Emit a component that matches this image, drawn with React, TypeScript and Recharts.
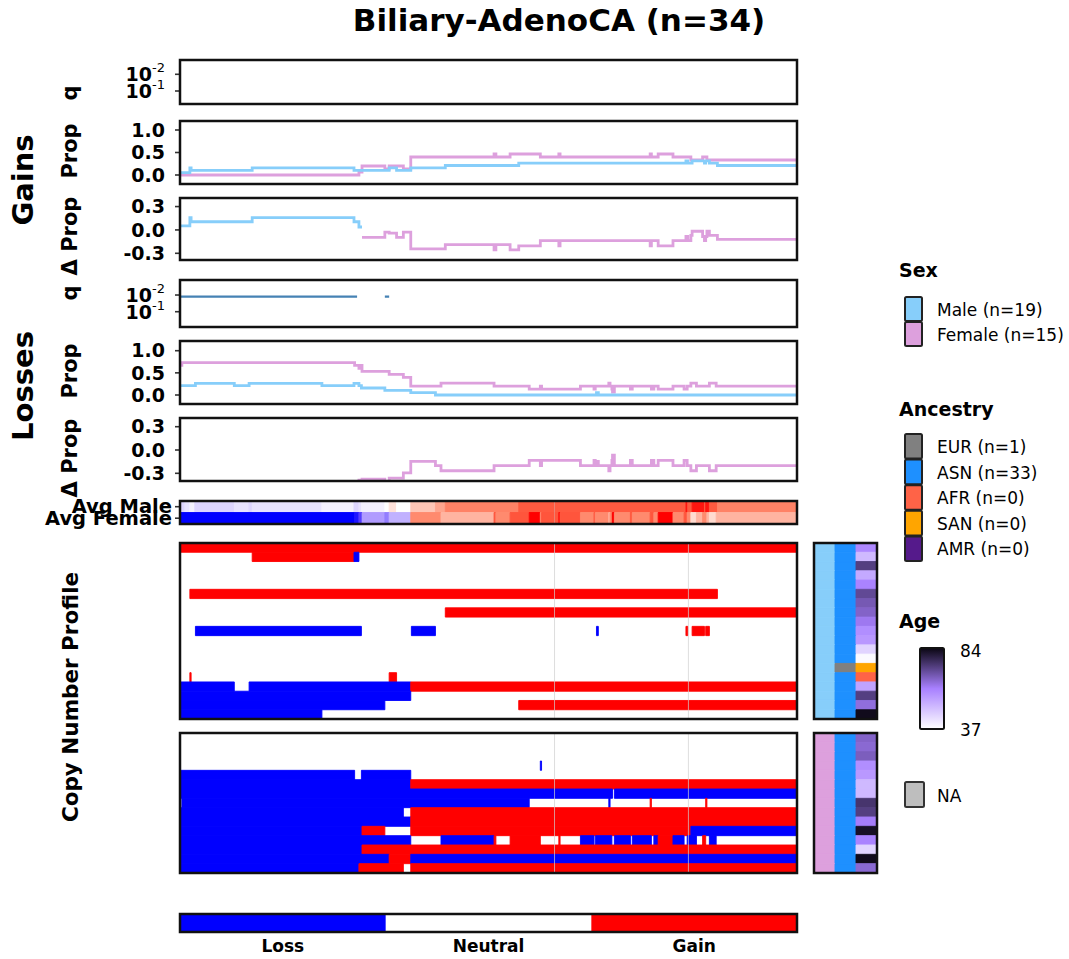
import React from 'react';
import {
  Bar,
  BarChart,
  Cell,
  ComposedChart,
  Line,
  LineChart,
  ReferenceArea,
  ReferenceLine,
  XAxis,
  YAxis,
} from 'recharts';

const FONT = '"DejaVu Sans", Verdana, sans-serif';
const maleColor = '#87CEFA';
const femaleColor = '#DDA0DD';
const qColor = '#4682B4';
const lossColor = '#0000FF';
const gainColor = '#FF0000';

type Step = [number, number | null];
type Seg = [number, number, number];

// positions are percent along the plotted region, each step holds until the next one
const qGainMale: Step[] = [[0, null]];
const qLossMale: Step[] = [[0, 0.0126], [28.7, null], [33.2, 0.0126], [33.9, null]];

const gainPropMale: Step[] = [
  [0, 0.053], [1.6, 0.158], [1.8, 0.105], [11.7, 0.158], [28.2, 0.105], [33.9, 0.158], [35.1, 0.105],
  [37.4, 0.158], [43.0, 0.211], [54.9, 0.263], [82.0, 0.316], [82.3, 0.263], [83.0, 0.316], [85.0, 0.263],
  [85.2, 0.316], [85.8, 0.263], [87.1, 0.211],
];
const gainPropFemale: Step[] = [
  [0, 0], [29.0, 0.067], [29.5, 0.2], [33.2, 0.133], [33.9, 0.2], [36.2, 0.133], [37.4, 0.4], [50.9, 0.467],
  [51.2, 0.4], [53.5, 0.467], [58.4, 0.4], [61.4, 0.467], [61.6, 0.4], [76.2, 0.467], [76.4, 0.4], [77.5, 0.467],
  [79.9, 0.4], [82.8, 0.333], [84.7, 0.4], [85.4, 0.333],
];
const gainDelta: Step[] = [
  [0, 0.053], [1.6, 0.158], [1.8, 0.105], [11.7, 0.158], [28.2, 0.105], [29.0, 0.038], [29.5, -0.095],
  [33.2, -0.028], [33.9, -0.042], [35.1, -0.095], [36.2, -0.028], [37.4, -0.242], [43.0, -0.189], [50.9, -0.256],
  [51.2, -0.189], [53.5, -0.256], [54.9, -0.204], [58.4, -0.137], [61.4, -0.204], [61.6, -0.137], [76.2, -0.204],
  [76.4, -0.137], [77.5, -0.204], [79.9, -0.137], [82.0, -0.084], [82.3, -0.137], [82.8, -0.07], [83.0, -0.017],
  [84.7, -0.084], [85.0, -0.137], [85.2, -0.084], [85.4, -0.017], [85.8, -0.07], [87.1, -0.122],
];

const lossPropMale: Step[] = [
  [0, 0.211], [2.5, 0.263], [8.8, 0.211], [11.2, 0.263], [23.0, 0.211], [28.2, 0.263], [29.0, 0.211],
  [29.4, 0.158], [33.2, 0.105], [37.4, 0.053], [41.4, 0], [67.5, 0.053], [67.8, 0],
];
const lossPropFemale: Step[] = [
  [0, 0.667], [0.3, 0.733], [28.3, 0.667], [29.0, 0.6], [29.4, 0.667], [29.5, 0.533], [33.9, 0.467], [36.2, 0.4],
  [37.4, 0.2], [42.3, 0.267], [50.9, 0.2], [56.6, 0.133], [58.4, 0.2], [58.6, 0.133], [64.9, 0.2], [67.1, 0.133],
  [67.3, 0.2], [69.5, 0.267], [69.7, 0.2], [70.0, 0.133], [70.1, 0.067], [70.4, 0.2], [73.0, 0.133], [73.3, 0.2],
  [76.4, 0.133], [76.8, 0.2], [77.5, 0.133], [79.9, 0.2], [81.7, 0.133], [82.2, 0.2], [82.8, 0.267], [83.7, 0.2],
  [85.8, 0.267], [86.9, 0.2],
];
const lossDelta: Step[] = [
  [0, -0.456], [0.3, -0.522], [2.5, -0.47], [8.8, -0.522], [11.2, -0.47], [23.0, -0.522], [28.2, -0.47],
  [28.3, -0.404], [29.0, -0.389], [29.4, -0.509], [29.5, -0.375], [33.2, -0.428], [33.9, -0.362], [36.2, -0.295],
  [37.4, -0.147], [41.4, -0.2], [42.3, -0.267], [50.9, -0.2], [56.6, -0.133], [58.4, -0.2], [58.6, -0.133],
  [64.9, -0.2], [67.1, -0.133], [67.3, -0.2], [67.5, -0.147], [67.8, -0.2], [69.5, -0.267], [69.7, -0.2],
  [70.0, -0.133], [70.1, -0.067], [70.4, -0.2], [73.0, -0.133], [73.3, -0.2], [76.4, -0.133], [76.8, -0.2],
  [77.5, -0.133], [79.9, -0.2], [81.7, -0.133], [82.2, -0.2], [82.8, -0.267], [83.7, -0.2], [85.8, -0.267],
  [86.9, -0.2],
];

const avgRows = ['Avg Male', 'Avg Female'];
const avgMale: Step[] = [
  [0, -0.158], [0.8, -0.105], [1.6, -0.053], [2.4, -0.158], [8.8, -0.105], [11.2, -0.158], [11.7, -0.105],
  [23.0, -0.053], [28.2, -0.158], [29.0, -0.105], [29.4, -0.053], [33.2, 0], [33.9, 0.053], [35.1, 0],
  [37.4, 0.105], [41.4, 0.158], [43.0, 0.211], [54.9, 0.263], [82.0, 0.316], [82.3, 0.263], [83.0, 0.316],
  [85.0, 0.263], [85.2, 0.316], [85.8, 0.263], [87.1, 0.211],
];
const avgFemale: Step[] = [
  [0, -0.733], [28.3, -0.667], [29.0, -0.533], [29.4, -0.6], [29.5, -0.333], [33.2, -0.4], [33.9, -0.267],
  [37.4, 0.2], [42.3, 0.133], [50.9, 0.267], [51.2, 0.2], [53.5, 0.267], [56.6, 0.333], [58.4, 0.2],
  [58.6, 0.267], [61.4, 0.333], [61.6, 0.267], [64.9, 0.2], [67.1, 0.267], [67.3, 0.2], [69.5, 0.133],
  [69.7, 0.2], [70.0, 0.267], [70.1, 0.333], [70.4, 0.2], [73.0, 0.267], [73.3, 0.2], [76.2, 0.267],
  [76.8, 0.2], [77.5, 0.333], [79.9, 0.2], [81.7, 0.267], [82.2, 0.2], [82.8, 0.067], [83.7, 0.133],
  [84.7, 0.2], [85.4, 0.133], [85.8, 0.067], [86.9, 0.133],
];

// copy number segments per sample: [start, end, +1 gain / -1 loss]
const maleCN: Seg[][] = [
  [[0, 100, 1]],
  [[11.7, 28.2, 1], [28.2, 29.0, -1]],
  [],
  [],
  [],
  [[1.6, 87.1, 1]],
  [],
  [[43.0, 100, 1]],
  [],
  [[2.5, 29.4, -1], [37.5, 41.4, -1], [67.5, 67.8, -1], [82.0, 82.3, 1], [83.0, 85.0, 1], [85.2, 85.8, 1]],
  [],
  [],
  [],
  [],
  [[1.6, 1.8, 1], [33.9, 35.1, 1]],
  [[0, 8.8, -1], [11.2, 37.4, -1], [37.4, 100, 1]],
  [[0, 37.4, -1]],
  [[0, 33.2, -1], [54.9, 100, 1]],
  [[0, 23.0, -1]],
];
const femaleCN: Seg[][] = [
  [],
  [],
  [],
  [[58.4, 58.6, -1]],
  [[0, 28.3, -1], [29.4, 37.4, -1]],
  [[0, 37.4, -1], [37.4, 100, 1]],
  [[0, 70.1, -1], [70.4, 100, -1]],
  [[0.3, 56.6, -1], [69.5, 69.7, -1], [76.2, 76.4, 1], [85.2, 85.4, 1]],
  [[0, 36.2, -1], [37.4, 100, 1]],
  [[0, 37.4, -1], [37.4, 100, 1]],
  [[0, 29.5, -1], [29.5, 33.2, 1], [37.4, 82.8, 1], [82.8, 100, -1]],
  [
    [0, 37.4, -1], [42.3, 50.9, -1], [50.9, 51.2, 1], [53.5, 58.4, 1], [61.4, 61.6, 1], [64.9, 67.1, -1],
    [67.3, 70.0, -1], [70.4, 73.0, -1], [73.3, 76.4, -1], [76.8, 77.5, -1], [77.5, 79.9, 1], [79.9, 81.7, -1],
    [82.2, 83.7, -1], [84.7, 85.2, 1], [85.8, 86.9, -1],
  ],
  [[0, 29.5, -1], [29.5, 100, 1]],
  [[0, 33.9, -1], [33.9, 37.4, 1], [37.4, 100, -1]],
  [[0, 29.0, -1], [29.0, 36.2, 1], [37.4, 100, 1]],
];
const gridMarks = [60.7, 82.4];

const maleAncestry = ['ASN', 'ASN', 'ASN', 'ASN', 'ASN', 'ASN', 'ASN', 'ASN', 'ASN', 'ASN', 'ASN', 'ASN', 'ASN', 'EUR', 'ASN', 'ASN', 'ASN', 'ASN', 'ASN'];
const femaleAncestry = Array(15).fill('ASN');
// ages; two cells are drawn in ancestry colours in the source figure
const maleAge: (number | string)[] = [59, 50, 73, 53, 60, 71, 68, 66, 62, 58, 56, 45, 38, 'SAN', 'AFR', 54, 73, 64, 83];
const femaleAge: (number | string)[] = [66, 65, 67, 58, 56, 50, 50, 75, 73, 61, 82, 60, 45, 83, 65];

const sexLegend = [
  { label: 'Male (n=19)', color: maleColor },
  { label: 'Female (n=15)', color: femaleColor },
];
const ancestryLegend = [
  { key: 'EUR', label: 'EUR (n=1)' },
  { key: 'ASN', label: 'ASN (n=33)' },
  { key: 'AFR', label: 'AFR (n=0)' },
  { key: 'SAN', label: 'SAN (n=0)' },
  { key: 'AMR', label: 'AMR (n=0)' },
];
const ancestryColors: Record<string, string> = {
  EUR: '#808080',
  ASN: '#1E90FF',
  AFR: '#FF6347',
  SAN: '#FFA500',
  AMR: '#551A8B',
};
const ageRange = [37, 84];
const cnStates = ['Loss', 'Neutral', 'Gain'];

const avgStops: [number, string][] = [
  [-0.733, '#0000ff'], [-0.533, '#5a40ff'], [-0.333, '#b09bff'], [-0.158, '#ddd5ff'], [0, '#ffffff'],
  [0.105, '#ffc6b6'], [0.2, '#ff8a6e'], [0.263, '#ff5a40'], [0.333, '#ff0000'],
];
const ageStops: [number, string][] = [[37, '#ffffff'], [60.5, '#a880ff'], [84, '#0a0612']];

const rgb = (h: string) => {
  const n = parseInt(h.slice(1), 16);
  return [(n >> 16) & 255, (n >> 8) & 255, n & 255];
};
const scaleColor = (stops: [number, string][], v: number) => {
  if (v <= stops[0][0]) return stops[0][1];
  for (let i = 1; i < stops.length; i++) {
    if (v <= stops[i][0]) {
      const t = (v - stops[i - 1][0]) / (stops[i][0] - stops[i - 1][0]);
      const a = rgb(stops[i - 1][1]);
      const b = rgb(stops[i][1]);
      return `rgb(${a.map((x, k) => Math.round(x + (b[k] - x) * t)).join(',')})`;
    }
  }
  return stops[stops.length - 1][1];
};

const stepSeries = (steps: Step[], keep: (v: number) => boolean = () => true, map: (v: number) => number = (v) => v) => {
  const out: { p: number; v: number | null }[] = [];
  steps.forEach(([p, v], i) => {
    const end = i + 1 < steps.length ? steps[i + 1][0] : 100;
    if (v !== null && keep(v)) {
      out.push({ p, v: map(v) }, { p: end, v: map(v) });
    } else {
      out.push({ p, v: null });
    }
  });
  return out;
};

type Rect = { x1: number; x2: number; y1: number; y2: number; fill: string };
const cnRects = (rows: Seg[][]): Rect[] =>
  rows.flatMap((segs, r) =>
    segs.map(([a, b, s]) => ({ x1: a, x2: b, y1: r, y2: r + 1, fill: s > 0 ? gainColor : lossColor })),
  );
const avgRects = (steps: Step[], row: number): Rect[] =>
  steps.map(([p, v], i) => ({
    x1: p,
    x2: i + 1 < steps.length ? steps[i + 1][0] : 100,
    y1: row,
    y2: row + 1,
    fill: scaleColor(avgStops, v ?? 0),
  }));
const annotRects = (sex: string, ancestry: string[], ages: (number | string)[]): Rect[] =>
  ancestry.flatMap((anc, r) => {
    const age = ages[r];
    return [
      { x1: 0, x2: 1, y1: r, y2: r + 1, fill: sex },
      { x1: 1, x2: 2, y1: r, y2: r + 1, fill: ancestryColors[anc] },
      {
        x1: 2,
        x2: 3,
        y1: r,
        y2: r + 1,
        fill: typeof age === 'number' ? scaleColor(ageStops, age) : ancestryColors[age],
      },
    ];
  });

const noMargin = { top: 0, right: 0, bottom: 0, left: 0 };
const pad = 12;
const tickStyle = { fontSize: 19, fontWeight: 'bold', fill: '#000', fontFamily: FONT };

const QTick = (props: any) => {
  const { x, y, payload } = props;
  return (
    <text x={x} y={y} textAnchor="end" fontFamily={FONT} fill="#000">
      <tspan fontWeight="bold" fontSize={19} dy={7}>10</tspan>
      <tspan fontSize={13} dy={-9}>{`-${payload.value}`}</tspan>
    </text>
  );
};

type PanelProps = {
  top: number;
  height: number;
  domain: [number, number];
  ticks: number[];
  q?: boolean;
  series: { data: { p: number; v: number | null }[]; color: string; width?: number }[];
};

function LinePanel({ top, height, domain, ticks, q, series }: PanelProps) {
  return (
    <div style={{ position: 'absolute', left: 100, top: top - pad }}>
      <LineChart width={697} height={height + 2 * pad} margin={{ top: pad, right: 0, bottom: pad, left: 0 }}>
        <XAxis type="number" dataKey="p" domain={[0, 100]} hide allowDataOverflow />
        <YAxis
          type="number"
          domain={domain}
          ticks={ticks}
          interval={0}
          width={80}
          allowDataOverflow
          axisLine={false}
          tickLine={{ stroke: '#333', strokeWidth: 1.6 }}
          tickSize={5}
          tickMargin={10}
          tick={q ? <QTick /> : tickStyle}
          tickFormatter={(v: number) => v.toFixed(1)}
        />
        {series.map((s, i) => (
          <Line
            key={i}
            data={s.data}
            dataKey="v"
            type="stepAfter"
            stroke={s.color}
            strokeWidth={s.width ?? 2.8}
            dot={false}
            connectNulls={false}
            isAnimationActive={false}
          />
        ))}
      </LineChart>
    </div>
  );
}

function Tiles({
  left,
  top,
  width,
  height,
  rects,
  xMax,
  yMax,
  grid = [],
  gridOpacity = 0.7,
}: {
  left: number;
  top: number;
  width: number;
  height: number;
  rects: Rect[];
  xMax: number;
  yMax: number;
  grid?: number[];
  gridOpacity?: number;
}) {
  return (
    <div style={{ position: 'absolute', left, top }}>
      <ComposedChart width={width} height={height} margin={noMargin}>
        <XAxis type="number" dataKey="p" domain={[0, xMax]} hide allowDataOverflow />
        <YAxis type="number" domain={[0, yMax]} reversed hide allowDataOverflow />
        {rects.map((r, i) => (
          <ReferenceArea
            key={i}
            x1={r.x1}
            x2={r.x2}
            y1={r.y1}
            y2={r.y2}
            fill={r.fill}
            fillOpacity={1}
            stroke={r.fill}
            strokeWidth={0.9}
            ifOverflow="hidden"
          />
        ))}
        {grid.map((g) => (
          <ReferenceLine key={g} x={g} stroke="#d0d0d0" strokeOpacity={gridOpacity} strokeWidth={1} />
        ))}
      </ComposedChart>
    </div>
  );
}

const frames = [
  [180, 60, 617, 44],
  [180, 121, 617, 63],
  [180, 198, 617, 62],
  [180, 280, 617, 47],
  [180, 341, 617, 63],
  [180, 418, 617, 63],
  [180, 501, 617, 23],
  [180, 543, 617, 176],
  [180, 733, 617, 140],
  [814, 543, 63, 176],
  [814, 733, 63, 140],
  [180, 914, 617, 18],
];

const axisTitles = [
  { text: 'q', y: 93 },
  { text: 'Prop', y: 151 },
  { text: 'Δ Prop', y: 236 },
  { text: 'q', y: 293 },
  { text: 'Prop', y: 371 },
  { text: 'Δ Prop', y: 458 },
];

const negLog = (v: number) => -Math.log10(v);

export default function App() {
  const avg = [...avgRects(avgMale, 0), ...avgRects(avgFemale, 1)];
  return (
    <div
      style={{
        position: 'absolute',
        left: 0,
        top: 0,
        width: 1069,
        height: 959,
        background: '#fff',
        fontFamily: FONT,
        overflow: 'hidden',
      }}
    >
      <LinePanel
        top={60}
        height={44}
        domain={[0.222, 2.856]}
        ticks={[1, 2]}
        q
        series={[{ data: stepSeries(qGainMale, () => true, negLog), color: qColor, width: 2 }]}
      />
      <LinePanel
        top={121}
        height={63}
        domain={[-0.2, 1.2]}
        ticks={[0, 0.5, 1]}
        series={[
          { data: stepSeries(gainPropFemale), color: femaleColor },
          { data: stepSeries(gainPropMale), color: maleColor },
        ]}
      />
      <LinePanel
        top={198}
        height={62}
        domain={[-0.386, 0.41]}
        ticks={[-0.3, 0, 0.3]}
        series={[
          { data: stepSeries(gainDelta, (v) => v >= 0), color: maleColor },
          { data: stepSeries(gainDelta, (v) => v < 0), color: femaleColor },
        ]}
      />
      <LinePanel
        top={280}
        height={47}
        domain={[0.084, 2.9]}
        ticks={[1, 2]}
        q
        series={[{ data: stepSeries(qLossMale, () => true, negLog), color: qColor, width: 2.2 }]}
      />
      <LinePanel
        top={341}
        height={63}
        domain={[-0.203, 1.219]}
        ticks={[0, 0.5, 1]}
        series={[
          { data: stepSeries(lossPropFemale), color: femaleColor },
          { data: stepSeries(lossPropMale), color: maleColor },
        ]}
      />
      <LinePanel
        top={418}
        height={63}
        domain={[-0.399, 0.412]}
        ticks={[-0.3, 0, 0.3]}
        series={[
          { data: stepSeries(lossDelta, (v) => v >= 0), color: maleColor },
          { data: stepSeries(lossDelta, (v) => v < 0), color: femaleColor },
        ]}
      />

      <Tiles left={180} top={501} width={617} height={23} rects={avg} xMax={100} yMax={2} grid={[gridMarks[0]]} gridOpacity={0.35} />
      <Tiles left={180} top={543} width={617} height={176} rects={cnRects(maleCN)} xMax={100} yMax={19} grid={gridMarks} />
      <Tiles left={180} top={733} width={617} height={140} rects={cnRects(femaleCN)} xMax={100} yMax={15} grid={gridMarks} />
      <Tiles left={814} top={543} width={63} height={176} rects={annotRects(maleColor, maleAncestry, maleAge)} xMax={3} yMax={19} />
      <Tiles left={814} top={733} width={63} height={140} rects={annotRects(femaleColor, femaleAncestry, femaleAge)} xMax={3} yMax={15} />

      <div style={{ position: 'absolute', left: 180, top: 914 }}>
        <BarChart width={617} height={52} margin={noMargin} data={cnStates.map((name) => ({ name, v: 1 }))} barCategoryGap={0}>
          <XAxis
            dataKey="name"
            axisLine={false}
            tickLine={false}
            height={34}
            interval={0}
            tick={{ fontSize: 17, fontWeight: 'bold', fill: '#000', fontFamily: FONT }}
          />
          <YAxis hide domain={[0, 1]} />
          <Bar dataKey="v" isAnimationActive={false}>
            {cnStates.map((s) => (
              <Cell key={s} fill={s === 'Loss' ? lossColor : s === 'Gain' ? gainColor : '#ffffff'} />
            ))}
          </Bar>
        </BarChart>
      </div>

      <svg width={1069} height={959} style={{ position: 'absolute', left: 0, top: 0, pointerEvents: 'none' }} fontFamily={FONT}>
        <defs>
          <linearGradient id="ageGrad" x1="0" y1="1" x2="0" y2="0">
            {ageStops.map(([a, c]) => (
              <stop key={a} offset={(a - ageRange[0]) / (ageRange[1] - ageRange[0])} stopColor={c} />
            ))}
          </linearGradient>
        </defs>
        <text x={559} y={31} textAnchor="middle" fontSize={31} fontWeight="bold">
          Biliary-AdenoCA (n=34)
        </text>
        {axisTitles.map((t, i) => (
          <text key={i} transform={`translate(77,${t.y}) rotate(-90)`} textAnchor="middle" fontSize={21} fontWeight="bold">
            {t.text}
          </text>
        ))}
        <text transform="translate(33,180) rotate(-90)" textAnchor="middle" fontSize={29} fontWeight="bold">
          Gains
        </text>
        <text transform="translate(33,386) rotate(-90)" textAnchor="middle" fontSize={29} fontWeight="bold">
          Losses
        </text>
        <text transform="translate(78,697) rotate(-90)" textAnchor="middle" fontSize={21.5} fontWeight="bold">
          Copy Number Profile
        </text>

        {avgRows.map((label, i) => (
          <g key={label}>
            <line x1={175} x2={180} y1={506.7 + i * 11.5} y2={506.7 + i * 11.5} stroke="#333" strokeWidth={1.6} />
            <text x={172} y={512.5 + i * 12} textAnchor="end" fontSize={19.5} fontWeight="bold">
              {label}
            </text>
          </g>
        ))}

        {frames.map(([x, y, w, h], i) => (
          <rect key={i} x={x} y={y} width={w} height={h} fill="none" stroke="#111" strokeWidth={2.5} />
        ))}

        <text x={899} y={277} fontSize={19} fontWeight="bold">Sex</text>
        {sexLegend.map((s, i) => (
          <g key={s.label}>
            <rect x={905} y={297 + i * 25} width={17} height={24} fill={s.color} stroke="#222" strokeWidth={2} rx={1.5} />
            <text x={937} y={316 + i * 25} fontSize={17}>{s.label}</text>
          </g>
        ))}

        <text x={899} y={416} fontSize={19} fontWeight="bold">Ancestry</text>
        {ancestryLegend.map((a, i) => (
          <g key={a.key}>
            <rect x={905} y={434 + i * 25.6} width={17} height={24.6} fill={ancestryColors[a.key]} stroke="#222" strokeWidth={2} rx={1.5} />
            <text x={937} y={453 + i * 25.6} fontSize={17}>{a.label}</text>
          </g>
        ))}

        <text x={899} y={628} fontSize={19} fontWeight="bold">Age</text>
        <rect x={920} y={648} width={24} height={81} fill="url(#ageGrad)" stroke="#111" strokeWidth={2} rx={1.5} />
        <text x={960} y={657} fontSize={17}>{ageRange[1]}</text>
        <text x={960} y={736} fontSize={17}>{ageRange[0]}</text>
        <rect x={905} y={782} width={19} height={25} fill="#BEBEBE" stroke="#333" strokeWidth={2} rx={1.5} />
        <text x={937} y={802} fontSize={17}>NA</text>
      </svg>
    </div>
  );
}
